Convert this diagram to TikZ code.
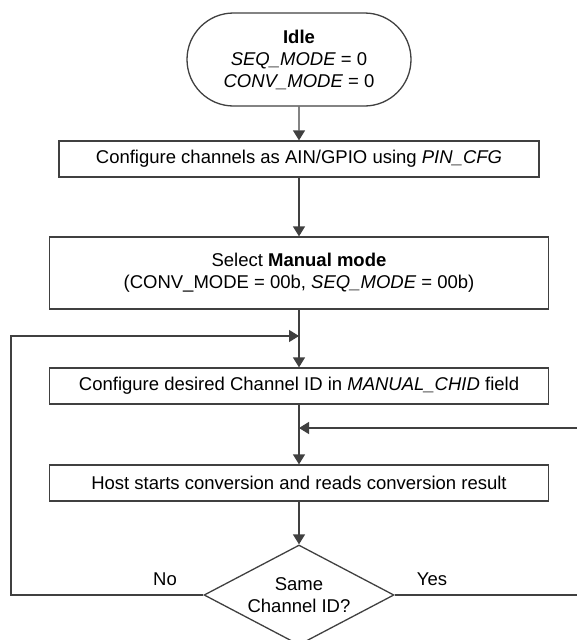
\documentclass[tikz,border=0pt]{standalone}
\usepackage{fontspec}
\setmainfont{Liberation Sans}
\usetikzlibrary{arrows.meta,shapes.misc,shapes.geometric}

\begin{document}
\begin{tikzpicture}[x=1pt,y=-1pt,
        font=\fontsize{18.5}{22}\selectfont,
        line/.style={draw=black!75, line width=1.3pt},
        arr/.style={line, -{Triangle[length=10pt,width=12pt]}},
        box/.style={line, rectangle, minimum height=36pt, inner sep=0pt, align=center},
        startstop/.style={line, rounded rectangle, minimum width=224pt, minimum height=93pt, inner sep=0pt, align=center},
        decision/.style={line, diamond, aspect=2, minimum width=190pt, minimum height=100pt, inner sep=0pt, align=center}]
        \clip (0,0) rectangle (577,640);
        % flow nodes
        \node[startstop] (idle) at (299,59.5) {\textbf{Idle}\\\textit{SEQ\_MODE} = 0\\\textit{CONV\_MODE} = 0};
        \node[box, minimum width=480pt] (pincfg) at (299,159) {Configure channels as AIN/GPIO using \textit{PIN\_CFG}};
        \node[box, minimum width=499pt, minimum height=72pt] (manual) at (299,273) {Select \textbf{Manual mode}\\(CONV\_MODE = 00b, \textit{SEQ\_MODE} = 00b)};
        \node[box, minimum width=499pt] (chid) at (299,386) {Configure desired Channel ID in \textit{MANUAL\_CHID} field};
        \node[box, minimum width=499pt] (conv) at (299,483) {Host starts conversion and reads conversion result};
        \node[decision] (same) at (299,595) {Same\\Channel ID?};
        \node (no) at (165,579) {No};
        \node (yes) at (432,579) {Yes};
        % joins on the main line
        \coordinate (nojoin) at (299,336);
        \coordinate (yesjoin) at (299,428);
        \coordinate (nocorner) at (11,595);
        \coordinate (yescorner) at (600,595);
        % connectors
        \draw[arr] (idle) -- (pincfg);
        \draw[arr] (pincfg) -- (manual);
        \draw[arr] (manual) -- (chid);
        \draw[arr] (chid) -- (conv);
        \draw[arr] (conv) -- (same);
        \draw[arr] (same.west) -- (nocorner) |- (nojoin);
        \draw[arr] (same.east) -- (yescorner) |- (yesjoin);
\end{tikzpicture}
\end{document}
